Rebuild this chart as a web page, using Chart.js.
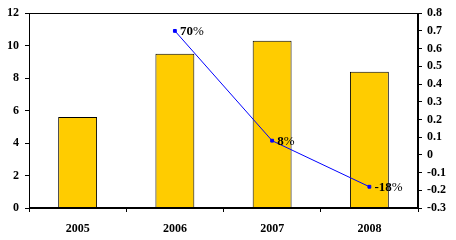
<!DOCTYPE html>
<html>
<head>
<meta charset="utf-8">
<script src="https://cdn.jsdelivr.net/npm/chart.js@4"></script>
<style>
  html, body { margin: 0; padding: 0; background: #fff; }
  #wrap { width: 456px; height: 240px; }
</style>
</head>
<body>
<div id="wrap"><canvas id="chart" width="456" height="240"></canvas></div>
<script>
const years = ['2005', '2006', '2007', '2008'];
const barValues = [5.6, 9.5, 10.3, 8.4];
const growthValues = [null, 0.70, 0.08, -0.18];
const growthLabels = ['', '70', '8', '-18'];

const serif = '"Liberation Serif", "Times New Roman", serif';
const tickFont = { family: serif, size: 12, weight: 'bold' };

// black frame around the plot area
const frame = {
  id: 'frame',
  afterDraw(chart) {
    const a = chart.chartArea, ctx = chart.ctx;
    ctx.save();
    ctx.strokeStyle = '#000';
    ctx.lineWidth = 1;
    ctx.strokeRect(Math.round(a.left) + 0.5, Math.round(a.top) + 0.5,
      Math.round(a.right - a.left) - 1, Math.round(a.bottom - a.top) - 1);
    ctx.restore();
  }
};

// percent labels beside the line points: bold number, plain "%"
const pointLabels = {
  id: 'pointLabels',
  afterDatasetsDraw(chart) {
    const meta = chart.getDatasetMeta(1), ctx = chart.ctx;
    ctx.save();
    ctx.fillStyle = '#000';
    ctx.textBaseline = 'middle';
    meta.data.forEach((pt, i) => {
      if (growthValues[i] == null) return;
      const x = pt.x + 5, y = pt.y + 1;
      ctx.font = 'bold 13px ' + serif;
      ctx.fillText(growthLabels[i], x, y);
      const w = ctx.measureText(growthLabels[i]).width;
      ctx.font = '13px ' + serif;
      ctx.fillText('%', x + w, y);
    });
    ctx.restore();
  }
};

new Chart(document.getElementById('chart'), {
  data: {
    labels: years,
    datasets: [
      {
        type: 'bar',
        data: barValues,
        backgroundColor: '#FFCC00',
        borderColor: '#000',
        borderWidth: 1,
        categoryPercentage: 0.8,
        barPercentage: 0.5,
        yAxisID: 'y',
        order: 2
      },
      {
        type: 'line',
        data: growthValues,
        borderColor: '#0000FF',
        borderWidth: 1,
        backgroundColor: '#0000FF',
        pointStyle: 'rect',
        pointRadius: 2,
        spanGaps: false,
        yAxisID: 'y1',
        order: 1
      }
    ]
  },
  options: {
    responsive: false,
    animation: false,
    layout: { padding: { top: 13, left: 0, right: 0, bottom: 0 } },
    plugins: { legend: { display: false }, tooltip: { enabled: false } },
    scales: {
      x: {
        offset: true,
        grid: { offset: true, drawOnChartArea: false, tickLength: 4, color: '#000' },
        border: { color: '#000' },
        ticks: { color: '#000', font: tickFont, padding: 10 },
        afterFit(s) { s.height = 32; }
      },
      y: {
        position: 'left',
        min: 0, max: 12,
        grid: { drawOnChartArea: false, tickLength: 4, color: '#000' },
        border: { color: '#000' },
        ticks: { stepSize: 2, color: '#000', font: tickFont, padding: 6 },
        afterFit(s) { s.width = 29; }
      },
      y1: {
        position: 'right',
        min: -0.3, max: 0.8,
        grid: { drawOnChartArea: false, tickLength: 4, color: '#000' },
        border: { color: '#000' },
        ticks: {
          stepSize: 0.1, color: '#000', font: tickFont, padding: 5,
          callback: v => String(Math.round(v * 10) / 10)
        },
        afterFit(s) { s.width = 38; }
      }
    }
  },
  plugins: [frame, pointLabels]
});
</script>
</body>
</html>
